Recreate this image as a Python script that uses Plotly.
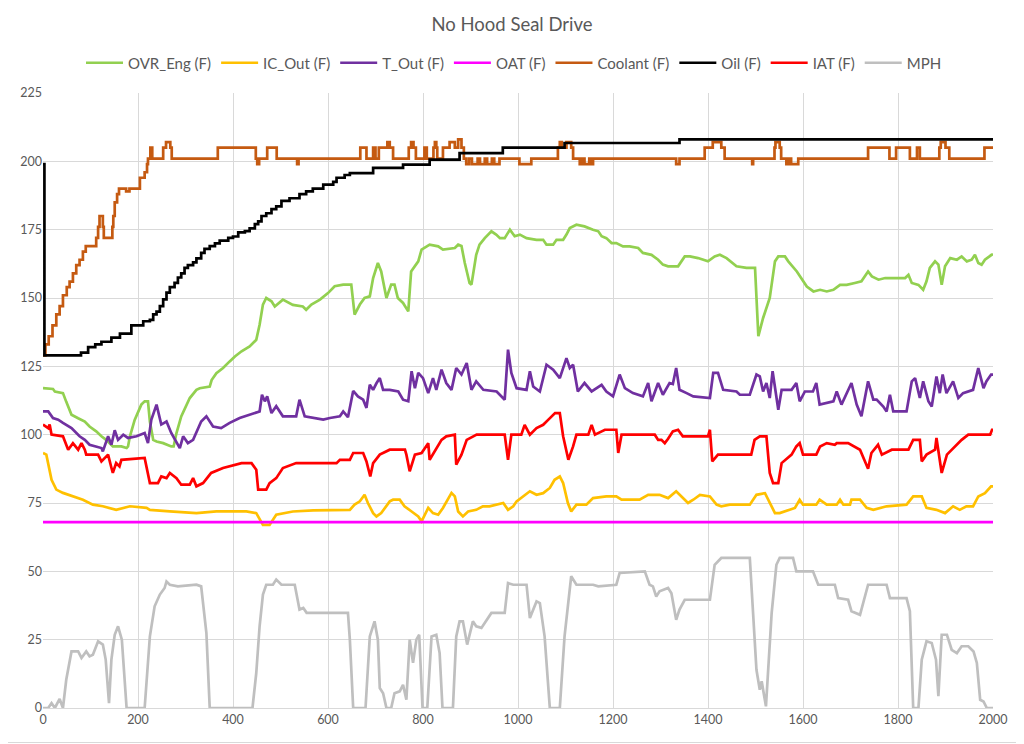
import plotly.graph_objects as go

TITLE = "No Hood Seal Drive"
X_TICKS = list(range(0, 2001, 200))
Y_TICKS = list(range(0, 226, 25))

OVR_ENG = [(0,117),(21,116.7),(25,115.8),(42,115.2),(49,112),(60,107.3),(74,106),(88,104.8),(98,103),(112,101.2),
 (123,99.4),(133,98.1),(147,95.7),(165,95.7),(176,95.1),(179,95.7),(183,99.4),(193,105.4),(207,111),(214,112.2),
 (221,112.2),(225,104.8),(232,98.1),(239,97.5),(253,96.9),(270,95.7),(275,95.7),(281,100.6),(291,106.7),(302,110.9),
 (309,113.4),(323,116.4),(330,117),(351,117.6),(355,120),(365,122.5),(379,124.4),(393,126.8),(404,128.6),(418,130.5),
 (435,132.3),(449,134.7),(456,140.2),(463,147.6),(470,150),(481,148.8),(488,146.9),(505,149.4),(526,147.5),(547,146.9),
 (554,145.7),(565,147.6),(583,149.4),(600,151.8),(614,154.3),(632,154.9),(649,154.9),(656,143.9),(667,147.6),(677,150),
 (688,150.6),(695,157.3),(705,162.8),(712,159.7),(723,150),(733,154.9),(740,154.9),(747,150),(758,148.2),(769,145.1),
 (775,159.7),(790,163.4),(797,167.7),(814,169.5),(832,168.9),(842,167.7),(867,168.3),(874,169.5),(881,169),(888,162.8),
 (898,155.5),(902,154.9),(905,158.5),(912,165.8),(919,169.5),(930,171.9),(944,174.4),(954,173.2),(962,171.9),(972,171.9),
 (983,175),(993,172.6),(1004,173.2),(1018,171.9),(1039,171.3),(1053,171.3),(1060,169.5),(1074,169.5),(1081,171.3),(1095,171.3),
 (1102,173.2),(1109,175.6),(1123,176.8),(1140,176.2),(1158,175),(1169,174.4),(1176,172.6),(1186,171.9),(1197,170.1),(1207,170.1),
 (1221,168.9),(1235,168.9),(1253,168.3),(1263,166.5),(1281,165.8),(1295,164),(1305,162.2),(1316,161.6),(1337,161.6),(1351,165.2),
 (1362,165.2),(1379,164.6),(1400,163.4),(1414,165.2),(1425,165.8),(1439,164.6),(1460,161.6),(1481,161),(1499,161),(1506,136),
 (1516,142.7),(1530,150),(1541,163.4),(1548,165.2),(1562,165.2),(1569,163.4),(1587,159.7),(1597,157.3),(1608,154.2),(1622,152.4),
 (1636,153),(1650,152.4),(1664,153),(1678,154.8),(1692,154.8),(1709,155.5),(1723,156.1),(1737,159.7),(1745,157.9),(1759,156.7),
 (1773,157.3),(1815,157.3),(1822,158.5),(1829,155.5),(1843,154.8),(1853,153),(1860,156.1),(1867,161),(1878,163.4),(1885,162.2),
 (1892,154.8),(1899,161.6),(1910,164.6),(1924,164),(1934,165.2),(1945,163.4),(1955,164),(1962,165.8),(1969,162.8),(1976,162.2),
 (1983,164),(1997,165.8),(2000,166)]

IC_OUT = [(0,93.3),(7,92.7),(18,83.5),(28,79.9),(42,78.7),(63,77.4),(84,76.2),(105,74.4),(126,73.8),(154,72.5),
 (183,73.8),(218,73.2),(225,72.5),(267,71.9),(323,71.3),(365,71.9),(428,71.9),(449,71.3),(463,67),(477,67),
 (491,70.7),(526,71.9),(569,72.3),(646,72.5),(656,74.4),(667,75.6),(677,78),(684,75),(695,71.3),(702,70.1),
 (712,71.3),(730,75.6),(737,76.2),(751,76.2),(761,73.8),(776,71.9),(790,70.1),(797,68.3),(804,70.7),(811,73.2),
 (821,71.3),(832,70.7),(842,73.2),(853,76.8),(860,78.7),(867,77.4),(874,71.9),(884,70.1),(895,71.9),(912,72.5),
 (926,73.8),(940,73.8),(955,74.4),(969,75),(979,72.5),(990,73.8),(997,75.6),(1011,77.4),(1025,79.3),(1039,78),
 (1053,78.6),(1067,80.5),(1077,83.5),(1088,84.7),(1095,82.3),(1105,75),(1112,71.9),(1123,74.4),(1144,74.4),(1158,76.8),
 (1186,77.4),(1207,77.4),(1218,76.2),(1256,76.2),(1274,78),(1298,78),(1316,76.8),(1333,79.3),(1344,77.4),(1358,75),
 (1369,76.2),(1383,78),(1404,77.4),(1418,74.4),(1428,73.8),(1446,74.4),(1488,74.4),(1502,78),(1520,78.6),(1530,75),
 (1541,71.3),(1551,71.3),(1569,72.5),(1583,73.2),(1593,76.2),(1600,74.4),(1628,74.4),(1635,76.2),(1650,74.4),(1671,74.4),
 (1678,76.2),(1685,74.4),(1699,74.4),(1702,76.2),(1720,76.2),(1734,73.2),(1748,72.5),(1776,73.8),(1818,74.4),(1832,77.4),
 (1850,77.4),(1860,73.2),(1881,72.5),(1899,71.3),(1916,73.8),(1930,72.5),(1944,73.8),(1958,73.8),(1969,77.4),(1983,78.6),
 (1996,81.1),(2000,81.1)]

T_OUT = [(0,108.5),(11,108.5),(21,106.1),(32,105.5),(42,104.3),(60,102.4),(77,99.4),(88,98.1),(98,96.3),(109,95.7),
 (123,95.1),(126,93.9),(137,99.4),(144,96.3),(151,101.6),(158,98.1),(169,100),(179,98.8),(197,99.4),(214,100.6),
 (221,96.9),(228,105.4),(239,111),(249,103.7),(260,104.8),(270,100.6),(281,96.9),(288,95.1),(295,99.4),(305,96.9),
 (316,98.1),(323,100.6),(333,104.8),(344,106.7),(358,103),(375,102.4),(393,104.3),(414,106.1),(435,107.3),(456,108.5),
 (461,114.6),(467,112.2),(472,114),(481,107.9),(491,110.4),(505,106.7),(533,106.7),(540,112.8),(551,106.7),(576,106.1),
 (590,105.5),(604,106.1),(625,106.7),(632,108.5),(642,106.4),(653,116),(663,114),(674,112.8),(681,109.8),(688,118.3),
 (695,116.4),(702,118.8),(709,120.7),(716,116.4),(730,116.4),(748,115.8),(758,112.8),(769,112.2),(776,123.2),(783,117),
 (790,122.6),(800,120.7),(811,115.2),(821,120.7),(828,116.4),(839,123.8),(849,118.9),(860,116.4),(870,124.4),(881,122),
 (892,126.2),(902,116.4),(912,119.5),(927,116.4),(955,115.8),(972,112.8),(979,131.1),(986,122.6),(997,117),(1018,116.4),
 (1025,123.2),(1032,117.6),(1046,115.8),(1060,125.6),(1074,123.8),(1088,120.7),(1102,128),(1109,124.4),(1116,125.6),(1126,115.8),
 (1140,118.9),(1155,115.8),(1176,118.2),(1186,115.8),(1200,114),(1214,122),(1225,117),(1242,115.2),(1263,114),(1274,118.9),
 (1281,112.2),(1295,118.9),(1305,114.6),(1319,118.9),(1326,118.5),(1333,124.4),(1340,116.4),(1355,115.2),(1369,114),(1404,113.4),
 (1411,122.6),(1421,122.6),(1432,116.4),(1460,115.8),(1467,114.6),(1488,114.6),(1502,122),(1509,121.3),(1516,115.8),(1523,118.9),
 (1530,113.4),(1536,123.2),(1548,109.1),(1555,116.4),(1576,116.4),(1586,118.9),(1593,112.2),(1604,115.8),(1621,115.8),(1628,118.9),
 (1635,111),(1664,112.2),(1671,115.8),(1681,111),(1702,118.9),(1713,111),(1723,106.7),(1737,119.5),(1748,112.8),(1755,112.8),
 (1769,110.3),(1776,108.5),(1783,114.6),(1790,108.5),(1818,108.5),(1829,119.5),(1836,120.7),(1846,113.4),(1853,119.5),(1864,112.2),
 (1871,110.3),(1881,121.3),(1888,115.2),(1894,122),(1902,115.2),(1916,119.5),(1927,113.4),(1937,115.2),(1958,116.4),(1969,124.4),
 (1980,117),(1986,119.5),(1996,122),(2000,122)]

OAT = [(0,68),(2000,68)]

COOLANT = [(0,129),(5,133),(12,136),(20,140),(28,144),(35,147),(42,151),(50,154),(56,156),(63,159),(70,162),(77,164),
 (84,167),(90,169),(112,172),(116,176),(119,180),(126,176),(128,172),(146,176),(148,180),(151,185),(156,188),(160,190),
 (175,189),(182,190),(204,194),(214,196),(219,199),(221,201),(226,205),(230,201),(253,205),(259,207),(268,205),(271,201),
 (368,205),(448,201),(451,199),(455,201),(472,205),(492,201),(535,199),(538,201),(668,205),(681,201),(695,205),(700,201),
 (707,205),(725,207),(730,205),(737,201),(770,205),(775,207),(780,205),(785,201),(803,205),(808,201),(822,205),(825,207),
 (828,205),(830,201),(842,205),(856,207),(867,205),(874,208),(881,205),(886,201),(891,199),(897,201),(903,199),(915,201),
 (920,199),(930,201),(935,199),(945,201),(950,199),(961,201),(1003,199),(1028,201),(1084,205),(1088,207),(1092,205),(1102,207),
 (1112,205),(1116,201),(1130,199),(1135,201),(1140,199),(1150,201),(1155,199),(1158,201),(1333,199),(1340,201),(1393,205),(1410,207),
 (1428,205),(1435,201),(1493,199),(1495,201),(1540,205),(1542,207),(1551,205),(1554,201),(1565,199),(1570,201),(1575,199),(1590,201),
 (1737,205),(1782,201),(1796,205),(1825,201),(1840,205),(1846,201),(1887,205),(1890,207),(1900,205),(1908,201),(1982,205),(2000,205)]

OIL = [(0,199),(3,129),(80,130),(95,132),(110,133),(123,134),(144,135.5),(162,137),(186,140),(211,141.5),(225,142),
 (232,144),(239,145),(246,147),(253,149.5),(260,152),(267,154),(277,155.5),(284,157.5),(291,159),(298,161),(305,162),
 (316,163),(323,164.5),(333,166.5),(340,168),(351,169),(362,170),(372,171),(390,172),(400,172.5),(411,174),(425,174.5),
 (435,175.5),(446,177),(453,178),(460,180),(470,181),(481,182.5),(491,183.5),(502,185.5),(519,186.5),(540,188),(554,189),
 (568,190),(590,191.5),(611,192.5),(618,194),(635,195),(646,195.7),(695,197.6),(758,198.8),(814,200.6),(877,203),(968,205),
 (1098,206.7),(1340,208),(2000,208)]

IAT = [(0,103.7),(11,102.4),(14,103.7),(18,100),(42,99.4),(53,94.5),(63,96.9),(74,94.5),(81,96.9),(88,94.5),(91,92.7),
 (116,92.7),(123,90.2),(137,92.7),(144,87.9),(147,86),(154,89.6),(161,88.4),(165,90.8),(214,91.5),(225,82.3),(242,82.3),
 (249,84.7),(260,84.1),(267,86),(281,84.1),(291,81.7),(309,81.7),(316,84.1),(323,81.1),(337,82.3),(354,86),(379,87.8),
 (418,89.6),(439,89.6),(449,87.2),(453,79.9),(470,79.9),(477,82.3),(491,84.1),(505,87.8),(533,89.6),(618,89.6),(625,90.8),
 (646,90.8),(653,93.3),(674,93.3),(681,90.2),(689,84.7),(695,89.6),(709,92.7),(730,94.5),(762,94.5),(765,92.7),(772,86.6),
 (783,92.7),(797,93.3),(811,96.9),(814,90.8),(828,95.1),(839,98.1),(849,99.4),(867,100),(870,89),(881,92.7),(892,98.1),
 (906,99.4),(913,100),(972,100),(979,90.8),(986,100),(1007,100),(1014,103.6),(1025,100),(1039,102.4),(1053,103.6),(1064,105.5),
 (1078,107.9),(1088,107.9),(1095,99.4),(1106,90.8),(1116,95.7),(1123,100),(1148,100),(1155,103.6),(1162,100),(1183,101.8),
 (1207,101.8),(1211,93.3),(1218,100),(1288,100),(1295,98.1),(1302,98.1),(1309,96.9),(1316,98.5),(1326,101.2),(1337,101.8),
 (1347,99.4),(1400,99.4),(1404,101.8),(1409,90.2),(1421,92.7),(1491,92.7),(1498,98.1),(1509,99.4),(1523,99.4),(1530,86),
 (1537,82.3),(1548,82.3),(1555,89.6),(1576,92.7),(1586,95.7),(1593,96.9),(1600,92.7),(1628,92.7),(1636,95.7),(1650,96.9),
 (1667,96.3),(1671,96.9),(1695,96.9),(1720,94.5),(1737,87.5),(1744,93.3),(1758,96.3),(1766,92.7),(1787,94.5),(1822,94.5),
 (1832,98.1),(1846,98.1),(1850,90.2),(1860,92.7),(1878,94.5),(1881,98.8),(1892,86),(1903,92.7),(1917,95.1),(1934,98.1),
 (1948,100),(1994,100),(1998,101.8),(2000,101.8)]

MPH = [(0,0),(11,0),(18,1.8),(25,0),(35,3.3),(42,0),(49,10.4),(60,20.7),(74,20.7),(81,18.3),(91,20.7),(98,18.9),
 (105,19.5),(116,24.4),(126,23.2),(132,17.7),(139,1.8),(144,17.7),(151,26.8),(158,29.9),(166,25),(176,0),(214,0),
 (225,26.2),(235,37.2),(246,41.5),(256,43.9),(260,46.3),(267,45.1),(284,44.5),(323,45.1),(333,44.5),(344,27.4),(351,0),
 (441,0),(449,12.8),(456,29.9),(463,41.5),(470,45.1),(484,45.1),(491,47),(502,45.1),(530,45.1),(540,36),(548,36.6),
 (555,34.8),(642,34.8),(646,25),(653,0),(679,0),(688,26.2),(698,31.7),(705,25),(709,7.3),(716,5.4),(723,0),(733,0),
 (740,5.4),(751,6.1),(758,8.5),(765,3),(772,25),(779,16.5),(786,25),(792,26.8),(799,0),(809,0),(818,26.2),(828,26.8),
 (835,20.1),(841,0),(863,0),(870,26.2),(877,31.7),(884,31.7),(893,23.2),(905,31.7),(912,29.9),(923,29.3),(933,31.7),
 (944,34.8),(972,34.8),(979,45.7),(990,45.1),(1018,45.1),(1025,32.9),(1039,39),(1046,38.4),(1056,26.2),(1067,0),(1088,0),
 (1098,26.2),(1112,48.2),(1123,45.1),(1158,45.1),(1169,44.5),(1207,45.1),(1214,49.4),(1267,50),(1277,45.1),(1284,44.5),
 (1291,40.8),(1298,42.7),(1316,43.9),(1323,42),(1333,32.3),(1340,36),(1351,39.6),(1404,39.6),(1414,52.4),(1428,54.9),
 (1488,54.9),(1495,34.7),(1502,14),(1509,6.7),(1513,9.8),(1522,0.6),(1534,34.7),(1544,52.4),(1551,54.9),(1579,54.9),
 (1586,50),(1621,50),(1632,45.1),(1667,45.1),(1674,40.2),(1695,39.6),(1702,35.4),(1720,34.1),(1737,45.1),(1776,45.1),
 (1783,40.2),(1818,40.2),(1825,35.4),(1832,0),(1843,0),(1850,17.7),(1860,24.4),(1871,23.8),(1880,17.7),(1885,4.3),
 (1892,26.8),(1903,26.8),(1913,21.3),(1924,20.1),(1934,22.6),(1948,22.6),(1959,20.7),(1966,16.5),(1973,3),(1980,2.4),
 (1987,0),(2000,0)]

SERIES = [
    ("OVR_Eng (F)", OVR_ENG, "#92D050", "linear"),
    ("IC_Out (F)", IC_OUT, "#FFC000", "linear"),
    ("T_Out (F)", T_OUT, "#7030A0", "linear"),
    ("OAT (F)", OAT, "#FF00FF", "linear"),
    ("Coolant (F)", COOLANT, "#C55A11", "hv"),
    ("Oil (F)", OIL, "#000000", "hv"),
    ("IAT (F)", IAT, "#FF0000", "linear"),
    ("MPH", MPH, "#BFBFBF", "linear"),
]

FONT = "Lato, 'Open Sans', sans-serif"
TXT = "#595959"
GRID = "#D9D9D9"

fig = go.Figure()
for name, pts, color, shape in SERIES:
    xs = [p[0] for p in pts]
    ys = [p[1] for p in pts]
    fig.add_trace(go.Scatter(x=xs, y=ys, name=name, mode="lines",
                             line=dict(color=color, width=2.7, shape=shape)))

# the page body has an 8px margin, so the figure starts at (8, 8) in the window
OFF = 8
W, H = 1024 - OFF, 744 - OFF
L, R, T, B = 35, 31, 85, 36
pw = W - L - R
ph = H - T - B

fig.update_layout(
    width=W, height=H,
    margin=dict(l=L, r=R, t=T, b=B, autoexpand=False),
    paper_bgcolor="white", plot_bgcolor="white",
    font=dict(family=FONT, color=TXT, size=12),
    title=dict(text=TITLE, x=(512 - OFF) / W, xanchor="center", xref="container",
               y=1 - (25 - OFF) / H, yanchor="middle", yref="container",
               font=dict(family=FONT, size=18.5, color=TXT)),
    legend=dict(orientation="h", xref="container", x=(514 - OFF) / W, xanchor="center",
                yref="container", y=1 - (63 - OFF) / H, yanchor="middle",
                font=dict(family=FONT, size=15, color=TXT),
                bgcolor="rgba(0,0,0,0)", itemwidth=37),
    showlegend=True,
    xaxis=dict(range=[0, 2000], tickmode="array", tickvals=X_TICKS,
               showgrid=True, gridcolor=GRID, gridwidth=1, zeroline=False,
               showline=True, linecolor=GRID, linewidth=1, ticks="",
               tickfont=dict(family=FONT, size=12.5, color=TXT)),
    yaxis=dict(range=[0, 225], tickmode="array", tickvals=Y_TICKS,
               showgrid=True, gridcolor=GRID, gridwidth=1, zeroline=False,
               showline=False, ticks="",
               tickfont=dict(family=FONT, size=12.5, color=TXT)),
    shapes=[
        dict(type="line", xref="paper", yref="paper",
             x0=(1022.5 - OFF - L) / pw, x1=(1022.5 - OFF - L) / pw,
             y0=(ph - (742.5 - OFF - T)) / ph, y1=(ph + T) / ph,
             line=dict(color=GRID, width=1)),
        dict(type="line", xref="paper", yref="paper",
             x0=-L / pw, x1=(1022.5 - OFF - L) / pw,
             y0=(ph - (742.5 - OFF - T)) / ph, y1=(ph - (742.5 - OFF - T)) / ph,
             line=dict(color=GRID, width=1)),
    ],
)

fig.write_html("out.html")
